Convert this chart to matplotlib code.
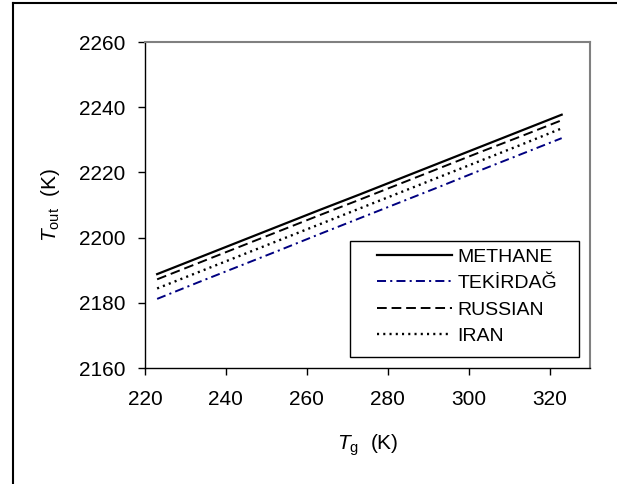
import matplotlib
matplotlib.use("Agg")
import matplotlib.pyplot as plt
from matplotlib.lines import Line2D
from matplotlib.patches import Rectangle

plt.rcParams['font.family'] = ['Liberation Sans', 'DejaVu Sans']
plt.rcParams['mathtext.fontset'] = 'custom'
plt.rcParams['mathtext.rm'] = 'Liberation Sans'
plt.rcParams['mathtext.it'] = 'Liberation Sans:italic'
plt.rcParams['lines.scale_dashes'] = False

# gas inlet temperature (K)
tg = [223, 233, 243, 253, 263, 273, 283, 293, 303, 313, 323]

# outlet temperature (K) per fuel
methane = [2188.8, 2193.7, 2198.6, 2203.5, 2208.4, 2213.2, 2218.1, 2223.0, 2227.9, 2232.8, 2237.7]
tekirdag = [2181.2, 2186.2, 2191.1, 2196.0, 2201.0, 2205.9, 2210.8, 2215.7, 2220.7, 2225.6, 2230.5]
russian = [2187.2, 2192.1, 2197.0, 2201.9, 2206.8, 2211.6, 2216.5, 2221.4, 2226.3, 2231.1, 2236.0]
iran = [2184.4, 2189.3, 2194.2, 2199.1, 2204.0, 2208.9, 2213.8, 2218.7, 2223.6, 2228.5, 2233.5]

names = ['METHANE', 'TEKİRDAĞ', 'RUSSIAN', 'IRAN']

W, H = 617, 484
fig = plt.figure(figsize=(6.17, 4.84), dpi=100)
ax = fig.add_axes([145/W, 1 - 368/H, 445/W, 326/H])

ax.plot(tg, methane, color='black', lw=1.6, ls='-', label=names[0])
ax.plot(tg, tekirdag, color='#000080', lw=1.4, ls=(0, (6.5, 3, 1.5, 3)), label=names[1])
ax.plot(tg, russian, color='black', lw=1.4, ls=(0, (7, 3.5)), label=names[2])
ax.plot(tg, iran, color='black', lw=1.7, ls=(0, (1.5, 3)), label=names[3])

ax.set_xlim(220, 330)
ax.set_ylim(2160, 2260)
ax.set_xticks(range(220, 321, 20))
ax.set_yticks(range(2160, 2261, 20))
ax.tick_params(direction='out', length=5, width=1, labelsize=15, color='black')
ax.tick_params(axis='x', pad=11)
ax.tick_params(axis='y', pad=9)

for s in ['top', 'right']:
    ax.spines[s].set_color('#808080')
    ax.spines[s].set_linewidth(1.5)
for s in ['left', 'bottom']:
    ax.spines[s].set_color('black')
    ax.spines[s].set_linewidth(1)

ax.set_xlabel(r'$T_{\mathrm{g}}$  (K)', fontsize=15, labelpad=17)
ax.set_ylabel(r'$T_{\mathrm{out}}$  (K)', fontsize=15, labelpad=12)

# legend box drawn separately so the padding matches
box = Rectangle((350/W, 1 - 357/H), 229/W, 116/H, transform=fig.transFigure,
                facecolor='white', edgecolor='black', lw=1, zorder=4, clip_on=False)
ax.add_artist(box)
leg = ax.legend(loc='upper left', bbox_to_anchor=(377/W, 1 - 248/H),
                bbox_transform=fig.transFigure, fontsize=14, frameon=False,
                handlelength=3.85, handletextpad=0.3, labelspacing=0.46,
                borderpad=0, borderaxespad=0)
leg.set_zorder(5)

# figure border, only left and top visible
fig.add_artist(Line2D([13/W, 13/W], [0, 1 - 3/H], transform=fig.transFigure,
                      color='black', lw=1.5))
fig.add_artist(Line2D([13/W, 1], [1 - 3/H, 1 - 3/H], transform=fig.transFigure,
                      color='black', lw=1.5))

fig.savefig('out.png', dpi=100)
